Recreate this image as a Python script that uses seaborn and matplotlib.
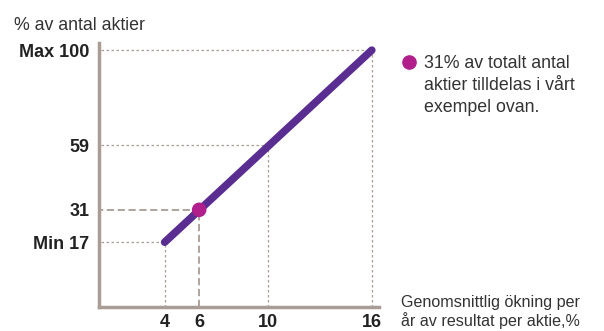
import numpy as np
import matplotlib.pyplot as plt
import seaborn as sns
import pandas as pd

# data
eps_growth = [4, 16]          # genomsnittlig ökning per år, %
share_pct = [17, 100]         # % av antal aktier
example_x = [6]
example_y = [31]
ref_x = [4, 6, 10, 16]
ref_y = [17, 31, 59, 100]
ytick_labels = ["Min 17", "31", "59", "Max 100"]
note_lines = ["31% av totalt antal", "aktier tilldelas i vårt", "exempel ovan."]
xlabel_lines = ["Genomsnittlig ökning per", "år av resultat per aktie,%"]

sns.set_theme(style="white")
plt.rcParams['font.family'] = ['Liberation Sans', 'DejaVu Sans']

purple = "#5a2d91"
magenta = "#b01f8c"
taupe = "#a99d95"
txt = "#222222"
grey = "#333333"

W, H = 604, 331
fig = plt.figure(figsize=(W / 100, H / 100), dpi=100)
ax = fig.add_axes([0.164, 0.0725, 0.463, 0.797])

df = pd.DataFrame({"x": eps_growth, "y": share_pct})
sns.lineplot(data=df, x="x", y="y", ax=ax, color=purple, linewidth=5.5,
             solid_capstyle="round")
sns.scatterplot(x=example_x, y=example_y, ax=ax, color=magenta, s=110,
                edgecolor="none", zorder=5)

# hjälplinjer
for xv, yv in zip(ref_x, ref_y):
    ls = (0, (4, 2)) if yv == example_y[0] else (0, (2, 2))
    lw = 1.3 if yv == example_y[0] else 0.9
    ax.plot([0, xv], [yv, yv], color=taupe, ls=ls, lw=lw, zorder=1)
    ax.plot([xv, xv], [-11, yv], color=taupe, ls=ls, lw=lw, zorder=1)

ax.set_xlim(0.2, 16.4)
ax.set_ylim(-11, 103)
ax.set_xticks(ref_x)
ax.set_xticklabels([str(v) for v in ref_x])
ax.set_yticks(ref_y)
ax.set_yticklabels(ytick_labels)
ax.tick_params(length=0, labelsize=13, colors=txt)
ax.tick_params(axis="y", pad=7)
ax.tick_params(axis="x", pad=5)
for lab in ax.get_xticklabels() + ax.get_yticklabels():
    lab.set_fontweight("bold")
ax.set_xlabel("")
ax.set_ylabel("")
sns.despine(ax=ax)
for s in ["left", "bottom"]:
    ax.spines[s].set_color(taupe)
    ax.spines[s].set_linewidth(2.5)

fig.text(14 / W, 1 - 25 / H, "% av antal aktier", fontsize=12.8, color=grey,
         va="center")

# förklaring
ax.plot([409 / W], [1 - 62 / H], marker="o", color=magenta, markersize=9.5,
        transform=fig.transFigure, clip_on=False)
for i, line in enumerate(note_lines):
    fig.text(424 / W, 1 - (63 + 22 * i) / H, line, fontsize=12.8, color=grey,
             va="center")
for i, line in enumerate(xlabel_lines):
    fig.text(401 / W, 1 - (302 + 19 * i) / H, line, fontsize=11.6, color=grey,
             va="center")

fig.savefig("out.png", dpi=100)
